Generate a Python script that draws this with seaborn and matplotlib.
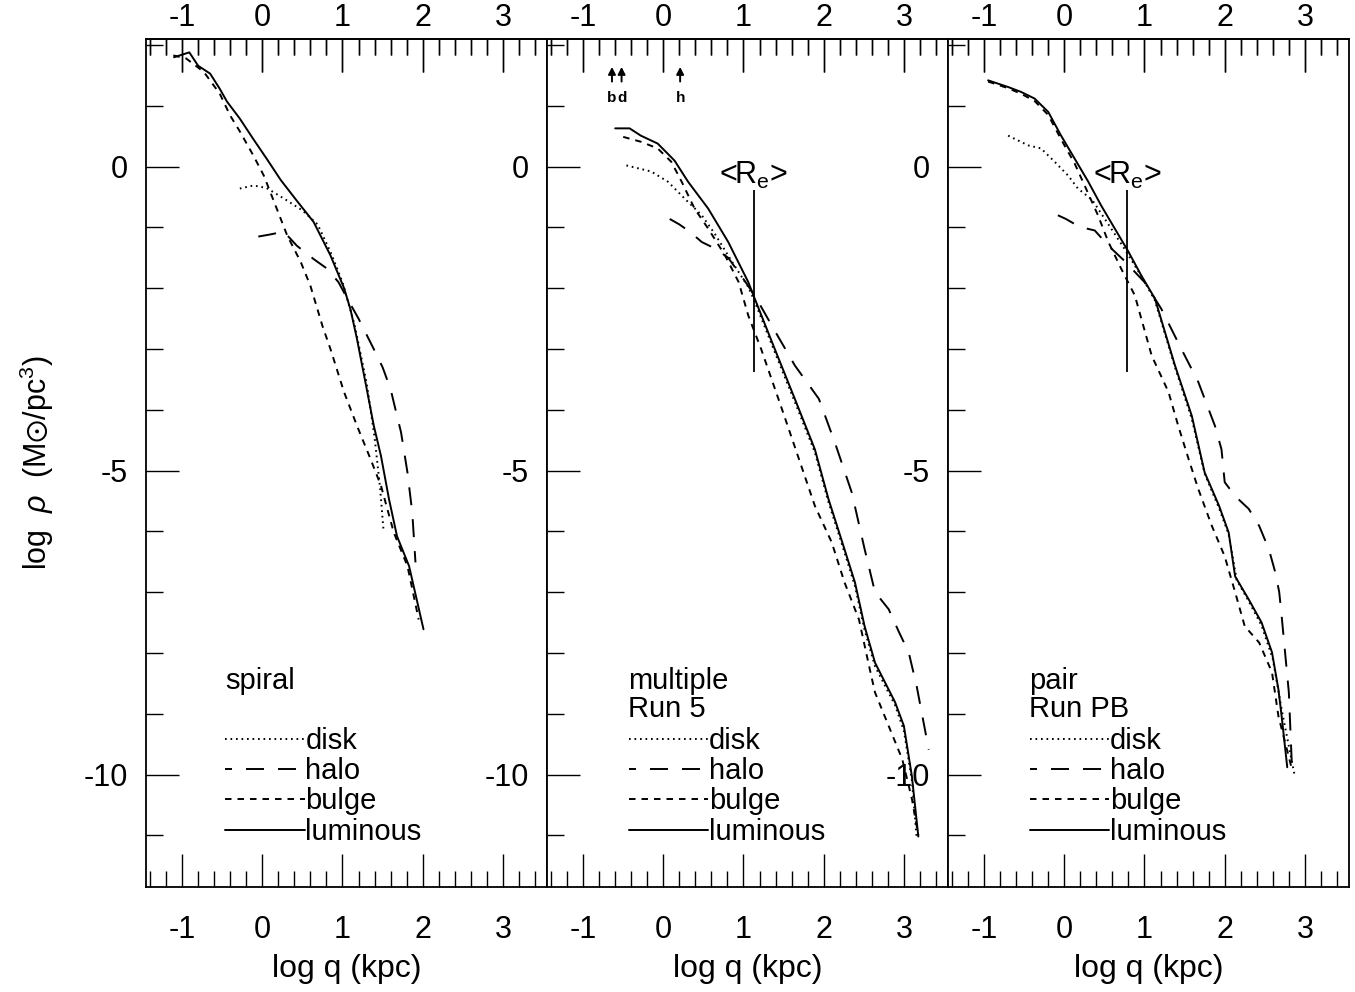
import numpy as np
import pandas as pd
import seaborn as sns
import matplotlib
matplotlib.use("Agg")
import matplotlib.pyplot as plt
from matplotlib.ticker import MultipleLocator
from matplotlib.lines import Line2D

# ---------------- data ----------------
components = ["disk", "halo", "bulge", "luminous"]

# panel 1: spiral
sp_lum_x = [-1.10, -0.91, -0.80, -0.65, -0.53, -0.44, -0.28, -0.11, 0.06, 0.23, 0.43, 0.64, 0.85, 1.02, 1.10, 1.18, 1.31, 1.39, 1.48, 1.58, 1.68, 1.83, 2.01]
sp_lum_y = [1.80, 1.88, 1.66, 1.53, 1.28, 1.07, 0.79, 0.45, 0.12, -0.22, -0.56, -0.91, -1.46, -2.00, -2.35, -2.83, -3.71, -4.26, -4.76, -5.47, -6.08, -6.57, -7.61]
sp_bul_x = [-1.11, -0.95, -0.73, -0.53, -0.40, -0.28, -0.11, 0.02, 0.18, 0.31, 0.48, 0.60, 0.75, 0.85, 1.02, 1.18, 1.35, 1.48, 1.64, 1.81, 1.95]
sp_bul_y = [1.83, 1.78, 1.56, 1.20, 0.84, 0.58, 0.18, -0.15, -0.69, -1.13, -1.57, -1.96, -2.62, -3.00, -3.71, -4.26, -4.81, -5.25, -6.02, -6.57, -7.45]
sp_dsk_x = [-0.28, -0.11, 0.05, 0.14, 0.30, 0.50, 0.69, 0.85, 1.00, 1.15, 1.30, 1.40, 1.47, 1.51]
sp_dsk_y = [-0.36, -0.31, -0.35, -0.42, -0.55, -0.72, -0.95, -1.40, -1.90, -2.60, -3.55, -4.45, -5.30, -5.96]
sp_hal_x = [-0.05, 0.08, 0.27, 0.43, 0.64, 0.81, 0.95, 1.06, 1.20, 1.39, 1.50, 1.60, 1.68, 1.73, 1.81, 1.87, 1.91]
sp_hal_y = [-1.15, -1.12, -1.07, -1.30, -1.52, -1.68, -1.90, -2.17, -2.50, -3.00, -3.30, -3.66, -4.10, -4.37, -5.03, -5.69, -6.51]

# panel 2: multiple, Run 5
mu_lum_x = [-0.60, -0.42, -0.28, -0.07, 0.14, 0.31, 0.56, 0.81, 1.06, 1.14, 1.39, 1.64, 1.89, 2.06, 2.22, 2.39, 2.51, 2.64, 2.89, 3.00, 3.10, 3.18]
mu_lum_y = [0.63, 0.63, 0.51, 0.38, 0.10, -0.25, -0.69, -1.24, -1.90, -2.17, -3.00, -3.82, -4.65, -5.47, -6.13, -6.84, -7.56, -8.16, -8.81, -9.20, -10.03, -11.02]
mu_dsk_x = [-0.46, -0.15, 0.06, 0.27, 0.48, 0.64, 0.85, 1.06, 1.14, 1.39, 1.64, 1.89, 2.06, 2.22, 2.39, 2.51, 2.64, 2.89, 3.00, 3.10, 3.16]
mu_dsk_y = [0.02, -0.08, -0.25, -0.53, -0.80, -1.10, -1.55, -1.98, -2.22, -3.05, -3.87, -4.70, -5.52, -6.18, -6.90, -7.62, -8.22, -8.86, -9.28, -10.10, -11.05]
mu_hal_x = [0.08, 0.20, 0.33, 0.48, 0.65, 0.81, 1.00, 1.14, 1.39, 1.64, 1.94, 2.14, 2.35, 2.51, 2.64, 2.81, 2.94, 3.06, 3.16, 3.31]
mu_hal_y = [-0.86, -0.95, -1.07, -1.24, -1.35, -1.50, -1.85, -2.12, -2.70, -3.27, -3.82, -4.54, -5.36, -6.29, -7.00, -7.28, -7.66, -7.99, -8.55, -9.59]
mu_bul_x = [-0.50, -0.28, -0.07, 0.10, 0.23, 0.39, 0.56, 0.77, 0.94, 1.06, 1.22, 1.48, 1.72, 1.89, 2.10, 2.26, 2.44, 2.58, 2.64, 2.81, 2.98, 3.10, 3.18]
mu_bul_y = [0.49, 0.41, 0.30, 0.08, -0.25, -0.69, -1.02, -1.46, -1.90, -2.45, -3.00, -3.99, -4.92, -5.58, -6.18, -6.84, -7.45, -8.30, -8.65, -9.20, -9.75, -10.40, -11.00]

# panel 3: pair, Run PB
pa_lum_x = [-0.95, -0.70, -0.54, -0.37, -0.20, -0.04, 0.13, 0.30, 0.46, 0.63, 0.80, 0.96, 1.13, 1.38, 1.59, 1.75, 1.93, 2.05, 2.13, 2.30, 2.46, 2.59, 2.67, 2.71, 2.78]
pa_lum_y = [1.42, 1.31, 1.23, 1.12, 0.90, 0.51, 0.13, -0.25, -0.64, -1.02, -1.40, -1.79, -2.17, -3.27, -4.10, -5.03, -5.58, -6.02, -6.74, -7.12, -7.50, -7.99, -8.60, -9.04, -9.88]
pa_dsk_x = [-0.70, -0.45, -0.29, -0.12, 0.05, 0.17, 0.35, 0.55, 0.75, 0.96, 1.13, 1.38, 1.59, 1.75, 1.93, 2.05, 2.15, 2.30, 2.46, 2.60, 2.72, 2.87]
pa_dsk_y = [0.51, 0.35, 0.30, 0.08, -0.15, -0.36, -0.55, -0.95, -1.35, -1.80, -2.20, -3.30, -4.15, -5.05, -5.62, -6.05, -6.80, -7.15, -7.55, -8.10, -9.00, -10.00]
pa_hal_x = [-0.08, 0.02, 0.19, 0.38, 0.55, 0.75, 1.00, 1.21, 1.46, 1.67, 1.88, 1.96, 2.00, 2.13, 2.30, 2.43, 2.55, 2.63, 2.68, 2.71, 2.80, 2.84]
pa_hal_y = [-0.80, -0.86, -0.99, -1.05, -1.30, -1.55, -1.90, -2.34, -3.00, -3.54, -4.27, -4.65, -5.19, -5.42, -5.63, -5.91, -6.29, -6.67, -7.00, -7.39, -8.65, -9.92]
pa_bul_x = [-0.95, -0.70, -0.54, -0.37, -0.20, -0.04, 0.13, 0.25, 0.42, 0.55, 0.71, 0.88, 0.96, 1.09, 1.30, 1.42, 1.55, 1.67, 1.84, 2.00, 2.13, 2.25, 2.43, 2.59, 2.67, 2.84]
pa_bul_y = [1.40, 1.29, 1.20, 1.08, 0.85, 0.45, 0.05, -0.30, -0.80, -1.24, -1.68, -2.12, -2.50, -3.11, -3.71, -4.26, -4.81, -5.30, -5.91, -6.41, -7.00, -7.56, -7.83, -8.32, -9.04, -9.92]

panel_titles = ["spiral", "multiple\nRun 5", "pair\nRun PB"]
re_x = [None, 1.125, 0.78]
re_ylo, re_yhi, re_label_y = -3.38, -0.39, -0.15
mark_x = [-0.64, -0.52, 0.21]
mark_lab = ["b", "d", "h"]
mark_arrow_lo, mark_arrow_hi, mark_text_y = 1.40, 1.64, 1.13
x_ticks = [-1, 0, 1, 2, 3]
y_ticks = [0, -5, -10]

panels = [
    {"disk": (sp_dsk_x, sp_dsk_y), "halo": (sp_hal_x, sp_hal_y), "bulge": (sp_bul_x, sp_bul_y), "luminous": (sp_lum_x, sp_lum_y)},
    {"disk": (mu_dsk_x, mu_dsk_y), "halo": (mu_hal_x, mu_hal_y), "bulge": (mu_bul_x, mu_bul_y), "luminous": (mu_lum_x, mu_lum_y)},
    {"disk": (pa_dsk_x, pa_dsk_y), "halo": (pa_hal_x, pa_hal_y), "bulge": (pa_bul_x, pa_bul_y), "luminous": (pa_lum_x, pa_lum_y)},
]

# ---------------- style ----------------
sns.set_theme(style="ticks")
plt.rcParams["font.family"] = ["Liberation Sans", "DejaVu Sans"]
plt.rcParams["mathtext.fontset"] = "custom"
plt.rcParams["mathtext.rm"] = "Liberation Sans"
plt.rcParams["mathtext.it"] = "Liberation Sans:italic"
plt.rcParams["mathtext.fallback"] = "stixsans"
plt.rcParams["axes.unicode_minus"] = False
plt.rcParams["axes.linewidth"] = 1.3
plt.rcParams["text.color"] = "black"
plt.rcParams["axes.labelcolor"] = "black"
plt.rcParams["xtick.color"] = "black"
plt.rcParams["ytick.color"] = "black"

LW = 1.4
dash_map = {"disk": (0.86, 1.97), "halo": (9.26, 7.2), "bulge": (3.34, 3.09), "luminous": ""}
legend_ls = {"disk": (0, (0.86, 1.97)), "halo": (5.66, (9.26, 7.2)), "bulge": (0, (3.34, 3.09)), "luminous": "-"}

W, H = 1355, 992
fig = plt.figure(figsize=(W / 100, H / 100), dpi=100)
left_px, top_px, bot_px, pw = 146, 39, 887, 401

FS = 22
LFS = 21

for i, pdata in enumerate(panels):
    ax = fig.add_axes([(left_px + i * pw) / W, (H - bot_px) / H, pw / W, (bot_px - top_px) / H])
    rows = []
    for comp in components:
        xs, ys = pdata[comp]
        rows.append(pd.DataFrame({"q": xs, "rho": ys, "component": comp}))
    df = pd.concat(rows, ignore_index=True)
    sns.lineplot(data=df, x="q", y="rho", style="component", style_order=components,
                 dashes=dash_map, color="black", linewidth=LW, estimator=None,
                 sort=False, legend=False, ax=ax)

    ax.set_xlim(-1.45, 3.55)
    ax.set_ylim(-11.85, 2.1)
    ax.set_xticks(x_ticks)
    ax.set_yticks(y_ticks)
    ax.xaxis.set_minor_locator(MultipleLocator(0.2))
    ax.yaxis.set_minor_locator(MultipleLocator(1))
    ax.tick_params(axis="x", which="both", direction="in", top=True, bottom=True,
                   labeltop=False, labelbottom=True, width=1)
    ax.tick_params(axis="x", which="major", length=24, pad=20, labelsize=FS)
    ax.tick_params(axis="x", which="minor", length=11.5)
    ax.tick_params(axis="y", which="both", direction="in", left=True, right=False, width=1)
    ax.tick_params(axis="y", which="major", length=24, pad=13, labelsize=FS)
    ax.tick_params(axis="y", which="minor", length=12)

    sec = ax.secondary_xaxis("top")
    sec.set_xticks(x_ticks)
    sec.xaxis.set_minor_locator(MultipleLocator(0.2))
    sec.tick_params(axis="x", which="both", direction="in", width=1)
    sec.tick_params(axis="x", which="major", length=24, pad=4, labelsize=FS)
    sec.tick_params(axis="x", which="minor", length=11.5)

    ax.set_xlabel("log q (kpc)", fontsize=23, labelpad=7)
    ax.set_ylabel("")
    for s in ax.spines.values():
        s.set_color("black")

    # panel labels
    ax.text(0.1975 + 0.005 * (i > 0), 0.259, panel_titles[i], transform=ax.transAxes,
            fontsize=LFS, ha="left", va="top", linespacing=1.0)

    handles = [Line2D([], [], color="black", lw=LW, linestyle=legend_ls[c])
               for c in components]
    ax.legend(handles, components, loc="upper left",
              bbox_to_anchor=(0.1975 + 0.006 * (i > 0), 0.189), frameon=False,
              fontsize=LFS, handlelength=2.72, handletextpad=0.03,
              labelspacing=0.08, borderpad=0, borderaxespad=0)

    if re_x[i] is not None:
        ax.vlines(re_x[i], re_ylo, re_yhi, color="black", lw=1.3)
        ax.text(re_x[i], re_label_y, "<R$_\\mathrm{e}$>", fontsize=FS,
                ha="center", va="center")

    if i == 1:
        for mx, ml in zip(mark_x, mark_lab):
            ax.annotate("", xy=(mx, mark_arrow_hi), xytext=(mx, mark_arrow_lo),
                        arrowprops=dict(arrowstyle="-|>,head_length=0.35,head_width=0.18",
                                        color="black", lw=1.4, shrinkA=0, shrinkB=0))
            ax.text(mx, mark_text_y, ml, fontsize=11, fontweight="bold",
                    ha="center", va="center")

    if i == 0:
        ax.set_ylabel("log  $\\rho$  (M$\\odot$/pc$^3$)", fontsize=FS, labelpad=20)

fig.savefig("out.png", dpi=100)
